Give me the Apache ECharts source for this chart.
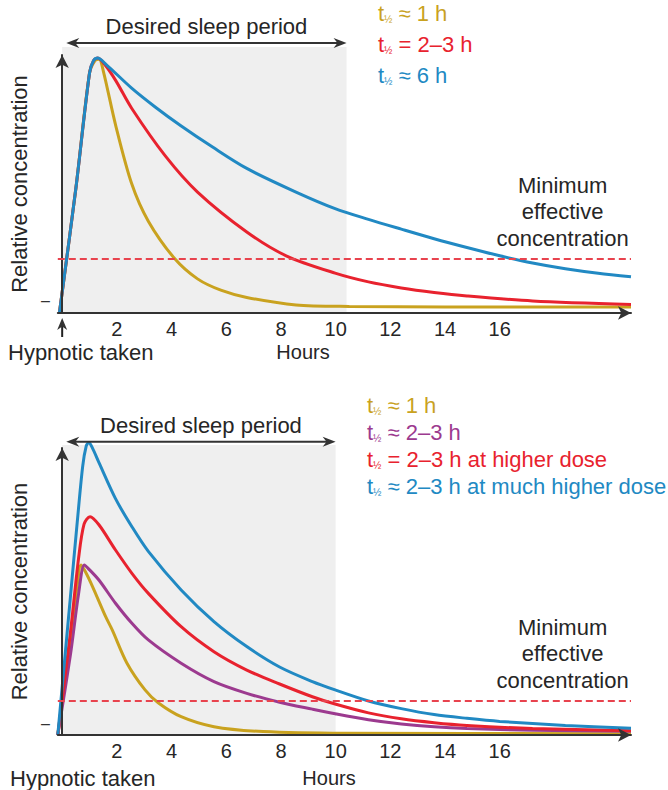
<!DOCTYPE html>
<html>
<head>
<meta charset="utf-8">
<title>Hypnotic half-life and dose</title>
<script src="https://cdn.jsdelivr.net/npm/echarts@6.0.0/dist/echarts.min.js"></script>
<style>
  html, body { margin: 0; padding: 0; background: #fff; }
  #chart-container { width: 668px; height: 790px; }
</style>
</head>
<body>
<div id="chart-container"></div>
<script>
// hour labels under both panels
const hourTicks = [2, 4, 6, 8, 10, 12, 14, 16];
const minEffective = 0.2;
const sleepEnd = [10.4, 10.0];

// [hours, relative concentration]
const topHalf1h = [[-0.1, -0.015], [0.5, 0.48], [1.0, 0.94], [1.2, 0.99], [1.35, 0.995], [1.5, 0.95], [1.96, 0.73], [2.54, 0.5], [3.15, 0.35], [4.12, 0.2], [4.95, 0.12], [5.8, 0.075], [6.75, 0.046], [8.55, 0.016], [10.5, 0.01], [14, 0.008], [20.8, 0.008]];
const topHalf2to3h = [[-0.1, -0.015], [0.5, 0.48], [1.0, 0.94], [1.15, 0.99], [1.3, 1.0], [1.55, 0.975], [1.96, 0.91], [2.54, 0.8], [3.77, 0.61], [4.95, 0.466], [6.75, 0.307], [8.19, 0.212], [9.98, 0.143], [11.2, 0.108], [12.4, 0.084], [13.6, 0.066], [14.8, 0.052], [17.2, 0.032], [20.8, 0.018]];
const topHalf6h = [[-0.1, -0.015], [0.5, 0.48], [1.0, 0.94], [1.15, 0.99], [1.3, 1.0], [1.6, 0.975], [2.54, 0.88], [3.4, 0.805], [4.34, 0.73], [5.5, 0.645], [6.75, 0.56], [8.55, 0.466], [9.98, 0.4], [11.2, 0.357], [12.4, 0.318], [13.6, 0.28], [14.8, 0.245], [16.0, 0.212], [17.2, 0.183], [18.4, 0.16], [19.6, 0.142], [20.8, 0.128]];

const botHalf1h = [[-0.16, 0], [0.3, 0.56], [0.55, 0.88], [0.69, 1.0], [0.85, 0.96], [1.11, 0.873], [1.59, 0.696], [1.83, 0.618], [2.37, 0.422], [3.03, 0.265], [3.51, 0.19], [4.35, 0.108], [5.55, 0.049], [7.35, 0.02], [10.35, 0.01], [20.8, 0.008]];
const botHalf2to3h = [[-0.16, 0], [0.3, 0.47], [0.6, 0.83], [0.81, 1.0], [0.95, 0.98], [1.35, 0.91], [1.95, 0.775], [2.55, 0.657], [3.15, 0.559], [4.35, 0.422], [5.55, 0.314], [6.75, 0.245], [7.95, 0.193], [9.15, 0.152], [9.98, 0.125], [11.2, 0.09], [12.4, 0.065], [13.6, 0.048], [14.8, 0.038], [17.2, 0.028], [20.8, 0.022]];
const botHigherDose = [[-0.16, 0], [0.3, 0.6], [0.6, 1.04], [0.8, 1.24], [1.02, 1.284], [1.35, 1.235], [1.95, 1.088], [2.55, 0.951], [3.15, 0.833], [4.35, 0.637], [5.55, 0.49], [6.75, 0.382], [7.95, 0.3], [9.15, 0.225], [9.98, 0.182], [11.2, 0.13], [12.4, 0.095], [13.6, 0.072], [14.8, 0.056], [17.2, 0.038], [20.8, 0.025]];
const botMuchHigherDose = [[-0.16, 0], [0.3, 0.81], [0.55, 1.25], [0.75, 1.58], [0.88, 1.7], [0.97, 1.72], [1.1, 1.69], [1.35, 1.6], [1.95, 1.39], [2.55, 1.225], [3.15, 1.08], [4.35, 0.853], [5.55, 0.667], [6.75, 0.52], [7.95, 0.4], [9.15, 0.314], [9.98, 0.265], [11.2, 0.2], [12.4, 0.155], [13.6, 0.12], [14.8, 0.098], [16, 0.08], [18.4, 0.056], [20.8, 0.04]];

const topLegend = ['≈ 1 h', '= 2–3 h', '≈ 6 h'];
const bottomLegend = ['≈ 1 h', '≈ 2–3 h', '= 2–3 h at higher dose', '≈ 2–3 h at much higher dose'];

const FONT = '"Liberation Sans", Arial, sans-serif';
const gold = '#c9a21f';
const red = '#e8222e';
const blue = '#2189c3';
const purple = '#9c3a8f';
const ink = '#262626';

const xMin = -0.16;
const xMax = 20.8;
const yRange = [[-0.016, 1.012], [0, 1.688]];
const shadeTop = [1.044, 1.706];
const sleepArrowY = [1.06, 1.725];
const baselineMark = [0.032, 0.07];

const dom = document.getElementById('chart-container');
const chart = echarts.init(dom, null, { renderer: 'svg' });

const curve = (name, data, color, i) => ({
  name,
  type: 'line',
  data,
  xAxisIndex: i,
  yAxisIndex: i,
  showSymbol: false,
  smooth: 0.3,
  clip: false,
  silent: true,
  z: 2,
  lineStyle: { color, width: 3 }
});

const minLine = (i) => ({
  type: 'line',
  data: [],
  xAxisIndex: i,
  yAxisIndex: i,
  silent: true,
  markLine: {
    silent: true,
    symbol: ['none', 'none'],
    z: 5,
    label: { show: false },
    lineStyle: { color: '#e8434e', type: [7, 4], width: 2 },
    data: [[{ coord: [xMin, minEffective] }, { coord: [xMax, minEffective] }]]
  }
});

const option = {
  animation: false,
  textStyle: { fontFamily: FONT },
  grid: [
    { left: 48, right: 37, top: 55, height: 258 },
    { left: 48, right: 37, top: 448, height: 287 }
  ],
  xAxis: [0, 1].map((i) => ({
    gridIndex: i,
    type: 'value',
    min: xMin,
    max: xMax,
    z: 4,
    axisLine: { onZero: false, symbol: ['none', 'arrow'], symbolSize: [10, 13], lineStyle: { color: '#333', width: 2 } },
    axisTick: { show: false },
    splitLine: { show: false },
    axisLabel: { customValues: hourTicks, color: ink, fontSize: 20, margin: 6, fontFamily: FONT }
  })),
  yAxis: [0, 1].map((i) => ({
    gridIndex: i,
    type: 'value',
    min: yRange[i][0],
    max: yRange[i][1],
    z: 4,
    axisLine: { onZero: true, symbol: ['none', 'arrow'], symbolSize: [10, 13], lineStyle: { color: '#333', width: 2 } },
    axisTick: { show: false },
    splitLine: { show: false },
    axisLabel: { customValues: [baselineMark[i]], formatter: () => '–', color: '#333', fontSize: 16, margin: 8 },
    name: 'Relative concentration',
    nameLocation: 'middle',
    nameGap: 22,
    nameTextStyle: { fontSize: 22, color: ink, fontFamily: FONT }
  })),
  series: [
    curve('t½ ≈ 1 h', topHalf1h, gold, 0),
    curve('t½ = 2–3 h', topHalf2to3h, red, 0),
    curve('t½ ≈ 6 h', topHalf6h, blue, 0),
    minLine(0),
    curve('t½ ≈ 1 h', botHalf1h, gold, 1),
    curve('t½ ≈ 2–3 h', botHalf2to3h, purple, 1),
    curve('t½ = 2–3 h at higher dose', botHigherDose, red, 1),
    curve('t½ ≈ 2–3 h at much higher dose', botMuchHigherDose, blue, 1),
    minLine(1)
  ]
};
chart.setOption(option);

// annotations placed from data coordinates
const px = (i, p) => chart.convertToPixel({ gridIndex: i }, p);

const head = (tip, dx, dy, len, half) => {
  const nx = -dy;
  const ny = dx;
  return {
    type: 'polygon',
    z: 10,
    shape: {
      points: [
        tip,
        [tip[0] - len * dx + half * nx, tip[1] - len * dy + half * ny],
        [tip[0] - len * 0.7 * dx, tip[1] - len * 0.7 * dy],
        [tip[0] - len * dx - half * nx, tip[1] - len * dy - half * ny]
      ]
    },
    style: { fill: '#333' }
  };
};

const text = (x, y, str, extra) => ({
  type: 'text',
  x,
  y,
  z: 10,
  style: Object.assign({ text: str, fill: ink, font: `22px ${FONT}`, align: 'center', verticalAlign: 'middle' }, extra || {})
});

const legendItem = (x, y, label, color) => ({
  type: 'text',
  x,
  y,
  z: 10,
  style: {
    text: `{t|t}{s|½}{r| ${label}}`,
    align: 'left',
    verticalAlign: 'middle',
    rich: {
      t: { fontSize: 22, fontFamily: FONT, fill: color },
      s: { fontSize: 10, fontFamily: FONT, fill: color, padding: [12, 0, 0, 0] },
      r: { fontSize: 22, fontFamily: FONT, fill: color }
    }
  }
});

const graphic = [];
const legendColors = [[gold, red, blue], [gold, purple, red, blue]];
const legendPos = [[378, 13, 31], [367, 405, 27]];

[0, 1].forEach((i) => {
  const a = px(i, [0, yRange[i][0]]);
  const b = px(i, [sleepEnd[i], shadeTop[i]]);
  graphic.push({
    type: 'rect',
    z: 0,
    shape: { x: a[0], y: b[1], width: b[0] - a[0], height: a[1] - b[1] },
    style: { fill: '#efefef' }
  });

  const l = px(i, [0.15, sleepArrowY[i]]);
  const r = px(i, [sleepEnd[i], sleepArrowY[i]]);
  graphic.push({
    type: 'line',
    z: 10,
    shape: { x1: l[0] + 8, y1: l[1], x2: r[0] - 8, y2: r[1] },
    style: { stroke: '#333', lineWidth: 2 }
  });
  graphic.push(head(l, -1, 0, 13, 5));
  graphic.push(head(r, 1, 0, 13, 5));
  graphic.push(text((l[0] + r[0]) / 2, l[1] - 16, 'Desired sleep period'));

  const m = px(i, [18.3, minEffective]);
  graphic.push(text(m[0], m[1] - 47, 'Minimum\neffective\nconcentration', { lineHeight: 26.5 }));

  const labels = i === 0 ? topLegend : bottomLegend;
  labels.forEach((lab, k) => {
    graphic.push(legendItem(legendPos[i][0], legendPos[i][1] + k * legendPos[i][2], lab, legendColors[i][k]));
  });
});

// "Hypnotic taken" arrow under the origin of the top panel
const o = px(0, [0, yRange[0][0]]);
graphic.push({
  type: 'line',
  z: 10,
  shape: { x1: o[0], y1: o[1] + 12, x2: o[0], y2: o[1] + 24 },
  style: { stroke: '#222', lineWidth: 2 }
});
graphic.push(head([o[0], o[1] + 5], 0, -1, 12, 5));

graphic.push(text(303, 352, 'Hours', { font: `20px ${FONT}` }));
graphic.push(text(329, 778, 'Hours', { font: `20px ${FONT}` }));
graphic.push(text(8, 352, 'Hypnotic taken', { align: 'left' }));
graphic.push(text(10, 778, 'Hypnotic taken', { align: 'left' }));

chart.setOption({ graphic });
window.addEventListener('resize', chart.resize);
</script>
</body>
</html>
